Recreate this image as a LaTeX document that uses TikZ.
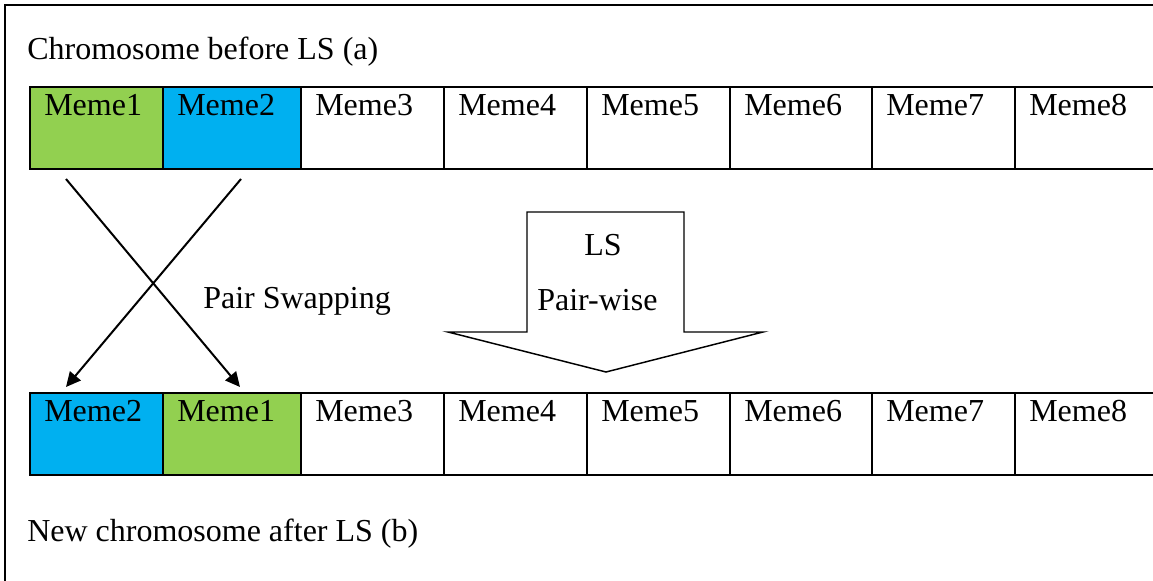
\documentclass[tikz,border=0pt]{standalone}
\usepackage{fontspec}
\setmainfont{Liberation Serif}
\usetikzlibrary{arrows.meta}
\definecolor{memegreen}{HTML}{92D050}
\definecolor{memeblue}{HTML}{00B0F0}
\begin{document}
\begin{tikzpicture}[x=0.75pt,y=-0.75pt,
  txt/.style={font=\fontsize{24}{28}\selectfont, inner sep=0pt, anchor=base west},
  cell/.style={draw=black, line width=1.5pt, rectangle, inner sep=0pt, anchor=north west, minimum height=61.5pt},
  swaparrow/.style={line width=1.5pt, -{Triangle[length=11pt,width=10.5pt]}},
]
\clip (0,0) rectangle (1153,581);
\fill[white] (0,0) rectangle (1153,581);
% outer frame (only its top and left edges fall inside the page)
\draw[line width=1.5pt] (5,5) rectangle (1200,640);

\node[txt] (title1) at (27,60) {Chromosome before LS (a)};
\node[txt] (title2) at (27,541) {New chromosome after LS (b)};

% cell boundaries (x in px) and fills of each row
\foreach \i/\xa/\xb/\fa/\fb in {1/29/162/memegreen/memeblue,2/162/300/memeblue/memegreen,3/300/443/white/white,4/443/586/white/white,5/586/729/white/white,6/729/871/white/white,7/871/1014/white/white,8/1014/1157/white/white}{
  \pgfmathsetmacro{\w}{(\xb-\xa)*0.75}
  \node[cell, fill=\fa, minimum width=\w pt] (top\i) at (\xa,86) {};
  \node[cell, fill=\fb, minimum width=\w pt] (bot\i) at (\xa,392) {};
}
% cell labels
\foreach \i/\xa/\ta/\tb in {1/29/Meme1/Meme2,2/162/Meme2/Meme1,3/300/Meme3/Meme3,4/443/Meme4/Meme4,5/586/Meme5/Meme5,6/729/Meme6/Meme6,7/871/Meme7/Meme7,8/1014/Meme8/Meme8}{
  \node[txt] (toplab\i) at (\xa+15,116) {\ta};
  \node[txt] (botlab\i) at (\xa+15,421) {\tb};
}

% pair swapping cross
\coordinate (s1) at (66,179);
\coordinate (s2) at (241,179);
\coordinate (e1) at (240,387);
\coordinate (e2) at (66,387);
\draw[swaparrow] (s1) -- (e1);
\draw[swaparrow] (s2) -- (e2);
\node[txt] (swaplab) at (203,308) {Pair Swapping};

% block arrow for the pair-wise local search
\draw[line width=1.1pt, fill=white, line join=miter]
  (527,212) -- (684,212) -- (684,332) -- (763,332) -- (606,372)
  -- (448,332) -- (527,332) -- cycle;
\node[txt, anchor=base] (lslab) at (603,255) {LS};
\node[txt] (pwlab) at (537,310) {Pair-wise};
\end{tikzpicture}
\end{document}
